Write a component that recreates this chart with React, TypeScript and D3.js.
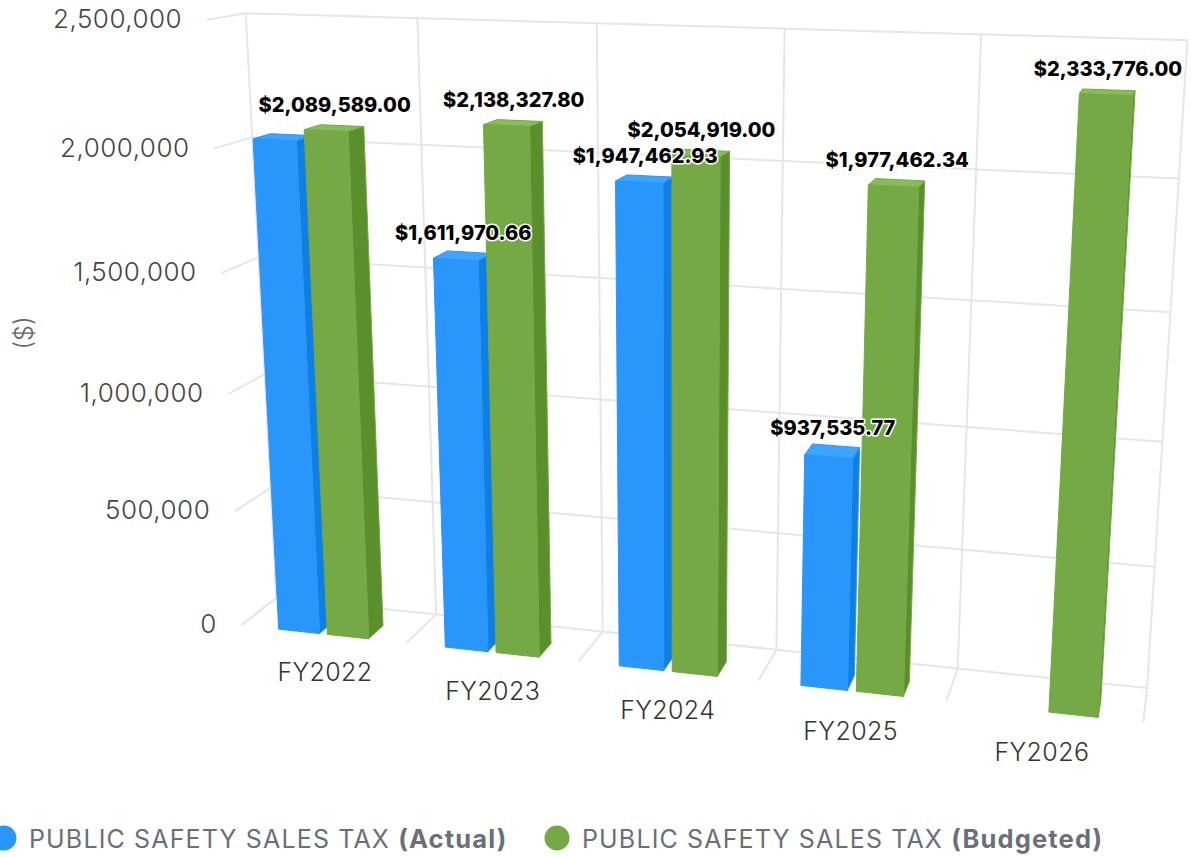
import React, {useEffect, useRef} from "react";
import * as d3 from "d3";

const categories = ["FY2022", "FY2023", "FY2024", "FY2025", "FY2026"];
const seriesNames = ["Actual", "Budgeted"];
const actual = [2045000, 1611970.66, 1947462.93, 937535.77, null];
const budgeted = [2089589, 2138327.8, 2054919, 1977462.34, 2333776];
const actualLabels = [false, true, true, true, false]; // FY2022 label is hidden in the chart
const budgetedLabels = [true, true, true, true, true];
const yTicks = [0, 500000, 1000000, 1500000, 2000000, 2500000];

const palette = [
    {front: "#2996fb", side: "#0f7fe4", top: "#3da5ff"},
    {front: "#74a945", side: "#5b8f2b", top: "#89bc59"},
];

// wall points of the 3D box: [category, value / 500k, depth (0 back, 1 front), px, py]
const anchors = [
    [0, 5, 0, 245, 13], [1, 5, 0, 417, 18], [2, 5, 0, 597, 23], [3, 5, 0, 785, 29], [4, 5, 0, 981, 35], [5, 5, 0, 1188, 40],
    [0, 0, 0, 277, 599], [1, 0, 0, 436, 614], [2, 0, 0, 602, 631], [3, 0, 0, 776, 650], [4, 0, 0, 958, 669], [5, 0, 0, 1147, 688],
    [0, 0, 1, 241, 625], [1, 0, 1, 407, 642], [2, 0, 1, 579, 660], [3, 0, 1, 759, 681], [4, 0, 1, 947, 701], [5, 0, 1, 1143, 722],
    [0, 5, 1, 208, 20], [0, 4, 1, 214, 149], [0, 3, 1, 221, 273],
    [0, 4, 0, 252, 137], [0, 3, 0, 260, 257], [5, 4, 0, 1178, 178],
];

// least squares fit of a projective camera through the anchors
function fitCamera(points: number[][])
{
    const n = 11;
    const A = d3.range(n).map(() => new Array(n + 1).fill(0));
    const add = (row: number[], rhs: number) =>
    {
        for (let i = 0; i < n; i++)
        {
            for (let j = 0; j < n; j++) A[i][j] += row[i] * row[j];
            A[i][n] += row[i] * rhs;
        }
    };
    points.forEach(([x, y, z, px, py]) =>
    {
        const u = px / 1000, v = py / 1000;
        add([x, y, z, 1, 0, 0, 0, 0, -u * x, -u * y, -u * z], u);
        add([0, 0, 0, 0, x, y, z, 1, -v * x, -v * y, -v * z], v);
    });
    for (let c = 0; c < n; c++)
    {
        let best = c;
        for (let r = c + 1; r < n; r++) if (Math.abs(A[r][c]) > Math.abs(A[best][c])) best = r;
        [A[c], A[best]] = [A[best], A[c]];
        for (let r = 0; r < n; r++)
        {
            if (r === c) continue;
            const f = A[r][c] / A[c][c];
            for (let k = c; k <= n; k++) A[r][k] -= f * A[c][k];
        }
    }
    const m = A.map((row, i) => row[n] / row[i]);
    return (x: number, y: number, z: number): [number, number] =>
    {
        const w = m[8] * x + m[9] * y + m[10] * z + 1;
        return [
            1000 * (m[0] * x + m[1] * y + m[2] * z + m[3]) / w,
            1000 * (m[4] * x + m[5] * y + m[6] * z + m[7]) / w,
        ];
    };
}

const money = (v: number) => "$" + d3.format(",.2f")(v);

function App()
{
    const ref = useRef<SVGSVGElement>(null);

    useEffect(() =>
    {
        const svg = d3.select(ref.current);
        svg.selectAll("*").remove();

        const project = fitCamera(anchors);
        const font = "Inter, sans-serif";

        const xScale = d3.scaleLinear().domain([0, categories.length]).range([0, 5]);
        const yScale = d3.scaleLinear().domain([0, 2500000]).range([0, 5]);
        const subScale = d3.scaleBand().domain(seriesNames).range([0.23, 0.775]).paddingInner(0.16);
        const zBack = 0.55;
        const zFront = 1.01;

        const path = d3.line().curve(d3.curveLinearClosed);
        const wire = d3.line();

        // grid on the three walls
        const grid = svg.append("g").attr("fill", "none").attr("stroke", "#e6e6e6").attr("stroke-width", 2);
        const gridLine = (pts: [number, number, number][]) =>
            grid.append("path").attr("d", wire(pts.map((p) => project(p[0], p[1], p[2]))));

        yTicks.forEach((t) =>
        {
            const y = yScale(t);
            gridLine([[0, y, 1], [0, y, 0], [5, y, 0]]);
        });
        d3.range(categories.length + 1).forEach((i) =>
        {
            const x = xScale(i);
            gridLine([[x, 0, 1], [x, 0, 0], [x, 5, 0]]);
        });

        // y axis labels
        svg.append("g").selectAll("text").data(yTicks).enter().append("text")
            .attr("x", (d) => project(0, yScale(d), 1)[0] - 25)
            .attr("y", (d) => project(0, yScale(d), 1)[1] - 1)
            .attr("dy", "0.36em")
            .attr("text-anchor", "end")
            .attr("font-family", font)
            .attr("font-size", 26)
            .attr("font-weight", 300)
            .attr("letter-spacing", 0.5)
            .attr("fill", "#444444")
            .text((d) => d3.format(",")(d));

        svg.append("text")
            .attr("transform", "translate(24, 333) rotate(-90)")
            .attr("text-anchor", "middle")
            .attr("dy", "0.36em")
            .attr("font-family", font)
            .attr("font-size", 25)
            .attr("font-weight", 300)
            .attr("fill", "#666666")
            .text("($)");

        // x axis labels
        svg.append("g").selectAll("text").data(categories).enter().append("text")
            .attr("x", (_, i) => project(xScale(i) + 0.5, -0.32, 1)[0])
            .attr("y", (_, i) => project(xScale(i) + 0.5, -0.32, 1)[1] + 2)
            .attr("dy", "0.36em")
            .attr("text-anchor", "middle")
            .attr("font-family", font)
            .attr("font-size", 25)
            .attr("font-weight", 300)
            .attr("letter-spacing", 0.4)
            .attr("fill", "#333333")
            .text((d) => d);

        // bars
        const bars = svg.append("g");
        const labels: {x: number, y: number, text: string}[] = [];
        categories.forEach((_, i) =>
        {
            [actual, budgeted].forEach((values, s) =>
            {
                const value = values[i];
                if (value === null) return;
                const x0 = xScale(i) + subScale(seriesNames[s]);
                const x1 = x0 + subScale.bandwidth();
                const y = yScale(value);
                const colors = palette[s];
                const face = (fill: string, pts: [number, number, number][]) =>
                    bars.append("path")
                        .attr("d", path(pts.map((p) => project(p[0], p[1], p[2]))))
                        .attr("fill", fill)
                        .attr("stroke", colors.front)
                        .attr("stroke-width", 1);

                face(colors.top, [[x0, y, zFront], [x1, y, zFront], [x1, y, zBack], [x0, y, zBack]]);
                face(colors.side, [[x1, 0, zFront], [x1, y, zFront], [x1, y, zBack], [x1, 0, zBack]]);
                face(colors.front, [[x0, 0, zFront], [x1, 0, zFront], [x1, y, zFront], [x0, y, zFront]]);

                if ((s === 0 ? actualLabels : budgetedLabels)[i])
                {
                    const top = project((x0 + x1) / 2, y, (zBack + zFront) / 2);
                    labels.push({x: top[0] + 0.5, y: top[1] - 23, text: money(value)});
                }
            });
        });

        // data labels go over every bar
        svg.append("g").selectAll("text").data(labels).enter().append("text")
            .attr("x", (d) => d.x)
            .attr("y", (d) => d.y)
            .attr("dy", "0.36em")
            .attr("text-anchor", "middle")
            .attr("font-family", font)
            .attr("font-size", 20)
            .attr("font-weight", 800)
            .attr("fill", "#000000")
            .attr("stroke", "#ffffff")
            .attr("stroke-width", 3)
            .attr("stroke-linejoin", "round")
            .attr("paint-order", "stroke")
            .text((d) => d.text);

        // legend
        const legend = svg.append("g").attr("font-family", font).attr("font-size", 25).attr("letter-spacing", 1.15).attr("fill", "#6a6f78");
        const legendX = [4, 557];
        seriesNames.forEach((name, s) =>
        {
            legend.append("circle").attr("cx", legendX[s]).attr("cy", 838).attr("r", 12.5).attr("fill", palette[s].front);
            const text = legend.append("text").attr("x", legendX[s] + 25).attr("y", 839).attr("dy", "0.36em");
            text.append("tspan").text("PUBLIC SAFETY SALES TAX ");
            text.append("tspan").attr("font-weight", 700).attr("font-size", 25.5).text(`(${name})`);
        });
    }, []);

    return (
        <svg ref={ref} width={1191} height={857} style={{position: "absolute", left: 0, top: 0, display: "block"}}></svg>
    );
}

export default App;
